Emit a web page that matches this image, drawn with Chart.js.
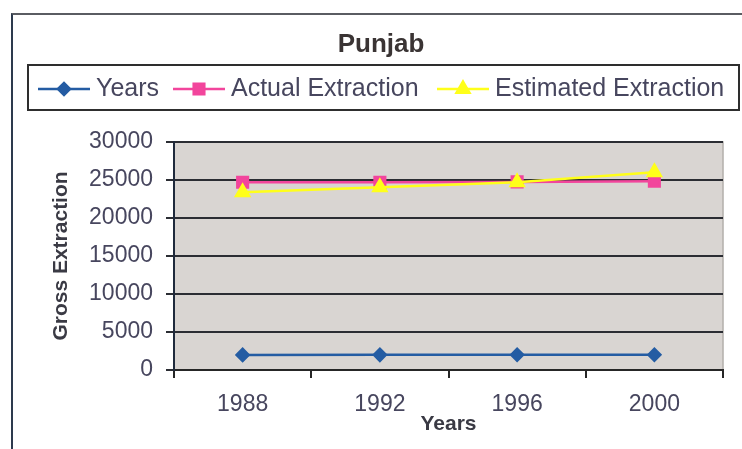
<!DOCTYPE html>
<html>
<head>
<meta charset="utf-8">
<title>Punjab</title>
<script src="https://cdn.jsdelivr.net/npm/chart.js@4.4.1/dist/chart.umd.min.js"></script>
<style>
    html, body { margin: 0; padding: 0; background: #fff; }
    #wrap { position: relative; width: 742px; height: 449px; overflow: hidden; }
    #frame {
        position: absolute; left: 11px; top: 13px; width: 800px; height: 500px;
        border-left: 2px solid #2d3a4e; border-top: 2px solid #5a5c62;
    }
    #chart { position: absolute; left: 0; top: 0; }
</style>
</head>
<body>
<div id="wrap">
    <div id="frame"></div>
    <canvas id="chart" width="742" height="449"></canvas>
</div>
<script>
// data
const categories = ['1988', '1992', '1996', '2000'];
const yearsValues = [1988, 1992, 1996, 2000];
const actualExtraction = [24700, 24700, 24750, 24850];
const estimatedExtraction = [23380, 24040, 24700, 26020];
const yMin = 0;
const yMax = 30000;
const yStep = 5000;

const FONT = '"Liberation Sans", Arial, sans-serif';
const TEXT = '#47465e';

// grey plot area with a light border
const plotBackground = {
    id: 'plotBackground',
    beforeDraw(chart) {
        const { ctx, chartArea: a } = chart;
        ctx.save();
        ctx.fillStyle = '#d9d5d2';
        ctx.fillRect(a.left, a.top, a.right - a.left, a.bottom - a.top);
        ctx.strokeStyle = '#b3afab';
        ctx.lineWidth = 1.5;
        ctx.strokeRect(a.left, a.top, a.right - a.left, a.bottom - a.top);
        ctx.restore();
    }
};

// title and boxed legend, drawn the old spreadsheet way (line + marker)
const titleLegend = {
    id: 'titleLegend',
    afterDraw(chart) {
        const ctx = chart.ctx;
        ctx.save();
        ctx.fillStyle = '#3a3434';
        ctx.font = 'bold 26px ' + FONT;
        ctx.textAlign = 'center';
        ctx.textBaseline = 'alphabetic';
        ctx.fillText('Punjab', 381, 52);

        // legend box
        ctx.strokeStyle = '#2e2e2e';
        ctx.lineWidth = 2;
        ctx.strokeRect(28, 65, 711, 45);

        const starts = [38, 173, 437];
        const ly = 89;
        chart.data.datasets.forEach((ds, i) => {
            const x0 = starts[i];
            ctx.strokeStyle = ds.borderColor;
            ctx.lineWidth = 2.5;
            ctx.beginPath();
            ctx.moveTo(x0, ly);
            ctx.lineTo(x0 + 52, ly);
            ctx.stroke();
            ctx.fillStyle = ds.pointBackgroundColor;
            ctx.strokeStyle = ds.pointBorderColor;
            Chart.helpers.drawPoint(ctx, {
                pointStyle: ds.pointStyle,
                radius: ds.pointRadius,
                rotation: 0,
                borderWidth: 1
            }, x0 + 26, ly);
            ctx.fillStyle = TEXT;
            ctx.font = '25px ' + FONT;
            ctx.textAlign = 'left';
            ctx.fillText(ds.label, x0 + 58, 96);
        });
        ctx.restore();
    }
};

new Chart(document.getElementById('chart').getContext('2d'), {
    type: 'line',
    data: {
        labels: categories,
        datasets: [{
            label: 'Years',
            data: yearsValues,
            borderColor: '#245ca3',
            pointBackgroundColor: '#245ca3',
            pointBorderColor: '#245ca3',
            pointStyle: 'rectRot',
            pointRadius: 6,
            borderWidth: 2.5,
            order: 2
        }, {
            label: 'Actual Extraction',
            data: actualExtraction,
            borderColor: '#f2459c',
            pointBackgroundColor: '#f2459c',
            pointBorderColor: '#f2459c',
            pointStyle: 'rect',
            pointRadius: 7.5,
            borderWidth: 2.5,
            order: 1
        }, {
            label: 'Estimated Extraction',
            data: estimatedExtraction,
            borderColor: '#ffff1a',
            pointBackgroundColor: '#ffff1a',
            pointBorderColor: '#ffff1a',
            pointStyle: 'triangle',
            pointRadius: 7.5,
            borderWidth: 2.5,
            order: 0
        }]
    },
    options: {
        responsive: false,
        devicePixelRatio: 1,
        animation: false,
        layout: {
            padding: { left: 14, right: 19, top: 142, bottom: 0 }
        },
        plugins: {
            legend: { display: false },
            title: { display: false },
            tooltip: { enabled: false }
        },
        elements: {
            line: { tension: 0 }
        },
        scales: {
            x: {
                offset: true,
                afterFit: s => { s.height = 79; },
                grid: {
                    offset: true,
                    drawOnChartArea: false,
                    drawTicks: true,
                    tickLength: 8,
                    color: '#262626',
                    lineWidth: 2
                },
                border: { display: true, color: '#262626', width: 2 },
                ticks: {
                    color: TEXT,
                    padding: 13,
                    font: { family: FONT, size: 23 },
                    maxRotation: 0
                },
                title: {
                    display: true,
                    text: 'Years',
                    color: '#3a3a44',
                    font: { family: FONT, size: 21, weight: 'bold' },
                    padding: { top: 0, bottom: 12 }
                }
            },
            y: {
                min: yMin,
                max: yMax,
                afterFit: s => { s.width = 160; },
                grid: {
                    drawOnChartArea: true,
                    drawTicks: true,
                    tickLength: 8,
                    color: '#2b2d33',
                    lineWidth: 2
                },
                border: { display: true, color: '#1f2a3c', width: 2 },
                ticks: {
                    stepSize: yStep,
                    color: TEXT,
                    padding: 13,
                    font: { family: FONT, size: 23 },
                    callback: v => String(v)
                },
                title: {
                    display: true,
                    text: 'Gross Extraction',
                    color: '#3a3a44',
                    font: { family: FONT, size: 21, weight: 'bold' },
                    padding: { top: 35, bottom: 0 }
                }
            }
        }
    },
    plugins: [plotBackground, titleLegend]
});
</script>
</body>
</html>
